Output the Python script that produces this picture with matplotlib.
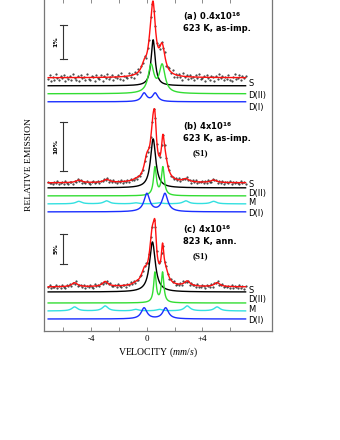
import numpy as np
import matplotlib
matplotlib.use("Agg")
import matplotlib.pyplot as plt

plt.rcParams["mathtext.fontset"] = "custom"
plt.rcParams["mathtext.it"] = "Liberation Serif:italic"
plt.rcParams["mathtext.rm"] = "Liberation Serif"
plt.rcParams["mathtext.bf"] = "DejaVu Sans:bold"

# ---------------- data ----------------
# Lorentzian components: (centre mm/s, FWHM mm/s, height)
A_S = [(0.45, 0.35, 46)]
A_D2 = [(0.30, 0.50, 27.5), (1.10, 0.50, 27.5)]
A_D1 = [(-0.20, 0.45, 8.4), (0.60, 0.45, 8.4)]

B_S = [(0.45, 0.45, 49)]
B_D2 = [(0.58, 0.25, 28), (1.15, 0.25, 28)]
B_M = [(-4.9, 0.5, 2.5), (-2.9, 0.5, 3.0), (-0.8, 0.5, 1.0), (0.9, 0.5, 1.0), (2.8, 0.5, 3.0), (4.8, 0.5, 2.5)]
B_D1 = [(0.00, 0.50, 18), (1.30, 0.50, 18)]

C_S = [(0.40, 0.50, 50)]
C_D2 = [(0.58, 0.22, 30), (1.13, 0.22, 30)]
C_M = [(-5.2, 0.5, 4.0), (-3.0, 0.5, 5.0), (-0.8, 0.5, 1.5), (0.9, 0.5, 1.5), (2.9, 0.5, 5.0), (5.05, 0.5, 4.0)]
C_D1 = [(-0.20, 0.50, 11), (1.35, 0.50, 11)]

# scatter of measured points about the fit (hand-estimated, units of noise level)
RESID = [0.3, -0.6, 0.8, -0.2, 0.5, -0.9, 0.1, 0.7, -0.4, 0.2, -0.7, 0.9, -0.1, 0.4, -0.5, 0.6,
         -0.8, 0.0, 0.5, -0.3, 0.9, -0.6, 0.2, -0.1, 0.7, -0.9, 0.3, 0.6, -0.4, -0.2, 0.8, -0.5,
         0.1, 0.4, -0.7, 0.9, -0.3, 0.2, -0.8, 0.5, 0.0, -0.6, 0.7, -0.1, 0.3, -0.4, 0.6, -0.9,
         0.8, -0.2, 0.1, 0.5, -0.7, 0.4, -0.3, 0.9, -0.5, 0.2, -0.8, 0.6, -0.1, 0.3, -0.6, 0.7,
         -0.3, 0.5, -0.8, 0.2, 0.9, -0.4, 0.1, -0.6, 0.6, -0.2, 0.4, -0.9, 0.7, 0.0, -0.5, 0.3,
         -0.7, 0.8, -0.1, 0.5, -0.4, 0.2, 0.9, -0.8, 0.1, -0.3, 0.6, -0.5, 0.4, -0.1, 0.7, -0.6,
         0.2, -0.9, 0.5, 0.3, -0.2, 0.8, -0.7, 0.1, 0.6, -0.4, 0.0, 0.9, -0.3, 0.4, -0.8, 0.2,
         -0.5, 0.7, -0.1, 0.3, -0.6, 0.5, 0.8, -0.2, -0.9, 0.4, 0.1, -0.7, 0.6, -0.3, 0.2, -0.5]

TICKS = [-6, -4, -2, 0, 2, 4, 6]
TICK_LABELS = ["", "-4", "", "0", "", "+4", ""]

# ---------------- layout / style ----------------
V_MIN, V_MAX = -7.1, 7.1
COL = {"S": "black", "D(II)": "#33dd33", "M": "#33e0e0", "D(I)": "#1a2eff"}

panels = [
    dict(red=78, noise=4.0, shift=0,
         comps=[("S", A_S, 86, 84), ("D(II)", A_D2, 94, 96), ("D(I)", A_D1, 102, 108)],
         bar=(25, 59), pct="1%", text=["(a) 0.4x10$^{\\mathbf{16}}$", "623 K, as-imp."], ty=17, s1=None),
    dict(red=183, noise=1.8, shift=37,
         comps=[("S", B_S, 188, 185), ("D(II)", B_D2, 196, 194), ("M", B_M, 204, 203), ("D(I)", B_D1, 212, 214)],
         bar=(122, 171), pct="10%", text=["(b) 4x10$^{\\mathbf{16}}$", "623 K, as-imp."], ty=127, s1=153),
    dict(red=287, noise=2.2, shift=71,
         comps=[("S", C_S, 292, 291), ("D(II)", C_D2, 303, 300), ("M", C_M, 311, 310), ("D(I)", C_D1, 319, 321)],
         bar=(234, 264), pct="5%", text=["(c) 4x10$^{\\mathbf{16}}$", "823 K, ann."], ty=230, s1=256),
]


def lor(v, lines):
    out = np.zeros_like(v)
    for c, w, a in lines:
        out += a / (1.0 + (2.0 * (v - c) / w) ** 2)
    return out


fig = plt.figure(figsize=(3.4, 4.4), dpi=100)
ax = fig.add_axes([44 / 340, 1 - 331 / 440, 228 / 340, 331 / 440 + 0.003])
ax.set_xlim(-7.4, 9.0)
ax.set_ylim(331, -1)

v = np.linspace(V_MIN, V_MAX, 700)
vp = np.linspace(V_MIN, V_MAX, len(RESID))
res = np.array(RESID)

for p in panels:
    total = np.zeros_like(v)
    totp = np.zeros_like(vp)
    for name, lines, base, ly in p["comps"]:
        prof = lor(v, lines)
        total += prof
        totp += lor(vp, lines)
        ax.plot(v, base - prof, color=COL[name], lw=1.0, zorder=3)
        ax.text(7.3, ly, name, fontsize=6, color="black", ha="left", va="center",
                family="DejaVu Sans")
    pts = p["red"] - totp + p["noise"] * np.roll(res, p["shift"])
    ax.plot(vp, pts, ".", color="#333333", ms=1.1, zorder=2)
    ax.plot(v, p["red"] - total, color="#ff1010", lw=1.0, zorder=4)
    # scale bar
    y0, y1 = p["bar"]
    ax.plot([-6.0, -6.0], [y0, y1], color="#333333", lw=0.8)
    ax.plot([-6.25, -5.75], [y0, y0], color="#333333", lw=0.8)
    ax.plot([-6.25, -5.75], [y1, y1], color="#333333", lw=0.8)
    ax.text(-6.55, (y0 + y1) / 2, p["pct"], rotation=90, fontsize=4.5, fontweight="bold",
            ha="center", va="center")
    ax.text(2.6, p["ty"], p["text"][0], fontsize=6, fontweight="bold", ha="left", va="center")
    ax.text(2.6, p["ty"] + 12, p["text"][1], fontsize=6, fontweight="bold", ha="left", va="center")
    if p["s1"] is not None:
        ax.text(3.3, p["s1"], "(S1)", fontsize=6.5, fontweight="bold", family="Liberation Serif",
                ha="left", va="center")

ax.set_xticks(TICKS)
ax.set_xticklabels(TICK_LABELS, family="Liberation Serif", fontsize=6.5)
ax.tick_params(axis="x", direction="in", top=True, bottom=True, length=3, width=0.6,
               color="#777777", pad=3)
ax.set_yticks([])
for s in ax.spines.values():
    s.set_color("#777777")
    s.set_linewidth(0.9)

ax.set_xlabel("VELOCITY ($\\mathit{mm/s}$)", family="Liberation Serif", fontsize=7, labelpad=2)
ax.set_ylabel("RELATIVE EMISSION", family="Liberation Serif", fontsize=6.8)
ax.yaxis.set_label_coords(-11 / 228, 0.5)

fig.savefig("out.png", dpi=100)
